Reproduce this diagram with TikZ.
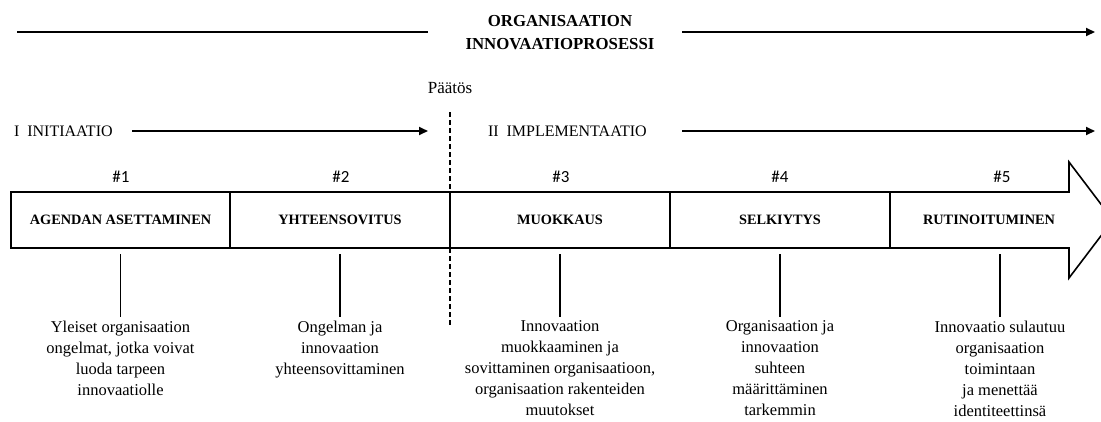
\documentclass[tikz,border=0pt]{standalone}
\usepackage{fontspec}
\setmainfont{Liberation Serif}
\newfontfamily\hashfont{Carlito}
\usetikzlibrary{arrows.meta}

\begin{document}
\begin{tikzpicture}[x=1pt,y=-1pt,
  every node/.style={inner sep=0pt, outer sep=0pt},
  stage/.style={draw, line width=1.8pt, minimum width=220pt, minimum height=56pt,
    font=\fontsize{14.3}{17}\selectfont\bfseries},
  num/.style={font=\hashfont\fontsize{17}{20}\selectfont},
  desc/.style={anchor=north, align=center, font=\fontsize{16.5}{21}\selectfont},
  phase/.style={anchor=west, font=\fontsize{16}{19}\selectfont},
  flow/.style={line width=1.9pt, -{Triangle[length=9pt,width=8pt]}},
  link/.style={line width=1.9pt}]
\useasboundingbox (0,0) rectangle (1101,421);
\clip (0,0) rectangle (1101,421);

% overall process title and its timeline
\node[font=\fontsize{16.8}{23.5}\selectfont\bfseries, align=center] (title) at (560,32.5)
  {ORGANISAATION\\INNOVAATIOPROSESSI};
\coordinate (tl) at (17,32);
\coordinate (tm1) at (428,32);
\coordinate (tm2) at (682,32);
\coordinate (tr) at (1095,32);
\draw[link] (tl) -- (tm1);
\draw[flow] (tm2) -- (tr);

% the two phases
\node[phase] (p1) at (14,131) {I\ \ INITIAATIO};
\coordinate (p1a) at (132,131);
\coordinate (p1b) at (428,131);
\draw[flow] (p1a) -- (p1b);
\node[phase] (p2) at (488,131) {II\ \ IMPLEMENTAATIO};
\coordinate (p2a) at (682,131);
\coordinate (p2b) at (1095,131);
\draw[flow] (p2a) -- (p2b);

% decision point
\node[font=\fontsize{17}{20}\selectfont] (dec) at (450,88) {Päätös};
\coordinate (dtop) at (450,112);
\coordinate (dbot) at (450,327);
\draw[line width=1.9pt, dash pattern=on 5pt off 3pt] (dtop) -- (dbot);

% stage numbers
\node[num] (n1) at (121,177) {\#1};
\node[num] (n2) at (341,177) {\#2};
\node[num] (n3) at (561,177) {\#3};
\node[num] (n4) at (780,177) {\#4};
\node[num] (n5) at (1002,177) {\#5};

% stages
\node[stage, minimum width=219pt] (b1) at (120.5,220) {AGENDAN ASETTAMINEN};
\node[stage] (b2) at (340,220) {YHTEENSOVITUS};
\node[stage] (b3) at (560,220) {MUOKKAUS};
\node[stage] (b4) at (780,220) {SELKIYTYS};
\draw[line width=1.6pt, line join=miter] (890,192) -- (1069,192) -- (1069,162) -- (1113,220)
  -- (1069,278) -- (1069,248) -- (890,248) -- cycle;
\node[font=\fontsize{14.3}{17}\selectfont\bfseries] (b5) at (989,220) {RUTINOITUMINEN};
\coordinate (b5s) at (1000,248);

% stage descriptions
\node[desc] (d1) at (120.5,321) {Yleiset organisaation\\ongelmat, jotka voivat\\luoda tarpeen\\innovaatiolle};
\node[desc] (d2) at (340,321) {Ongelman ja\\innovaation\\yhteensovittaminen};
\node[desc] (d3) at (560,321) {Innovaation\\muokkaaminen ja\\sovittaminen organisaatioon,\\organisaation rakenteiden\\muutokset};
\node[desc] (d4) at (780,321) {Organisaation ja\\innovaation\\suhteen\\määrittäminen\\tarkemmin};
\node[desc] (d5) at (1000,321) {Innovaatio sulautuu\\organisaation\\toimintaan\\ja menettää\\identiteettinsä};

% connectors from stages to descriptions
\draw[link] ([yshift=-6pt]b1.south) -- ([yshift=4pt]d1.north);
\draw[link] ([yshift=-6pt]b2.south) -- ([yshift=4pt]d2.north);
\draw[link] ([yshift=-6pt]b3.south) -- ([yshift=4pt]d3.north);
\draw[link] ([yshift=-6pt]b4.south) -- ([yshift=4pt]d4.north);
\draw[link] ([yshift=-6pt]b5s) -- ([yshift=4pt]d5.north);
\end{tikzpicture}
\end{document}
